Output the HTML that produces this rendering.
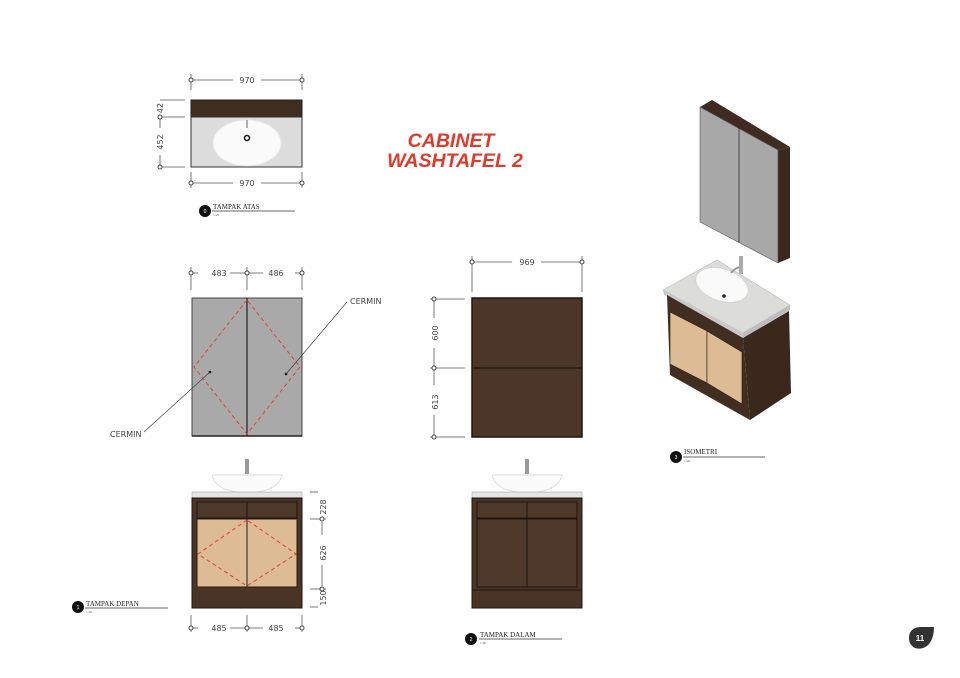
<!DOCTYPE html>
<html><head><meta charset="utf-8"><style>
html,body{margin:0;padding:0;background:#fff;width:960px;height:678px;overflow:hidden}
svg{display:block}
.d{stroke:#555;stroke-width:0.8;fill:none}
.t{font-family:"DejaVu Sans","Liberation Sans",sans-serif;font-size:8px;fill:#444}
.lab{font-family:"Liberation Serif",serif;font-size:7px;fill:#222}
.sc{font-family:"Liberation Serif",serif;font-size:3.5px;fill:#555}
</style></head><body>
<svg width="960" height="678" viewBox="0 0 960 678" xmlns="http://www.w3.org/2000/svg">
<defs>
<g id="tk"><circle r="2" fill="#fff" stroke="#444" stroke-width="1"/></g>
</defs>

<!-- TOP VIEW -->
<line class="d" x1="191" y1="74" x2="191" y2="90"/><line class="d" x1="302" y1="74" x2="302" y2="90"/>
<line class="d" x1="191" y1="80" x2="233" y2="80"/><line class="d" x1="261" y1="80" x2="302" y2="80"/>
<use href="#tk" x="191" y="80"/><use href="#tk" x="302" y="80"/>
<text class="t" x="247" y="83" text-anchor="middle">970</text>
<rect x="191" y="100" width="111" height="17" fill="#3f2d20" stroke="#222" stroke-width="1"/>
<rect x="191" y="117" width="111" height="50" fill="#dcdcdc" stroke="#333" stroke-width="1"/>
<ellipse cx="247" cy="143" rx="34" ry="23" fill="#fafafa" stroke="#e8e8e8"/>
<circle cx="247" cy="138" r="2.5" fill="#fff" stroke="#111" stroke-width="1.5"/>
<line x1="247" y1="120" x2="247" y2="128" stroke="#666" stroke-width="1"/>
<line class="d" x1="160" y1="100" x2="185" y2="100"/><line class="d" x1="158" y1="117" x2="185" y2="117"/><line class="d" x1="158" y1="167" x2="185" y2="167"/>
<line class="d" x1="160" y1="117" x2="160" y2="128"/><line class="d" x1="160" y1="155" x2="160" y2="167"/>
<use href="#tk" x="160" y="117"/><use href="#tk" x="160" y="167"/>
<text class="t" transform="translate(163,108) rotate(-90)" text-anchor="middle">42</text>
<text class="t" transform="translate(163,142) rotate(-90)" text-anchor="middle">452</text>
<line class="d" x1="191" y1="172" x2="191" y2="188"/><line class="d" x1="302" y1="172" x2="302" y2="188"/>
<line class="d" x1="191" y1="183" x2="233" y2="183"/><line class="d" x1="261" y1="183" x2="302" y2="183"/>
<use href="#tk" x="191" y="183"/><use href="#tk" x="302" y="183"/>
<text class="t" x="247" y="186" text-anchor="middle">970</text>
<circle cx="205" cy="211" r="6" fill="#111"/><text x="205" y="213" font-size="5" fill="#fff" text-anchor="middle" font-family="Liberation Sans">0</text>
<text class="lab" x="213" y="209">TAMPAK ATAS</text><line x1="212" y1="211" x2="295" y2="211" stroke="#333" stroke-width="0.7"/>
<text class="sc" x="213" y="216">1:20</text>

<!-- TITLE -->
<text x="451" y="147" text-anchor="middle" font-family="Liberation Sans,sans-serif" font-weight="bold" font-style="italic" font-size="19.5" fill="#e03a2a">CABINET</text>
<text x="455" y="167" text-anchor="middle" font-family="Liberation Sans,sans-serif" font-weight="bold" font-style="italic" font-size="19.5" fill="#e03a2a">WASHTAFEL 2</text>

<!-- MIRROR FRONT -->
<line class="d" x1="191" y1="267" x2="191" y2="290"/><line class="d" x1="247" y1="267" x2="247" y2="290"/><line class="d" x1="302" y1="267" x2="302" y2="290"/>
<line class="d" x1="191" y1="273" x2="198" y2="273"/><line class="d" x1="230" y1="273" x2="263" y2="273"/><line class="d" x1="295" y1="273" x2="302" y2="273"/>
<use href="#tk" x="191" y="273"/><use href="#tk" x="247" y="273"/><use href="#tk" x="302" y="273"/>
<text class="t" x="219" y="276" text-anchor="middle">483</text><text class="t" x="276" y="276" text-anchor="middle">486</text>
<rect x="192" y="298" width="110" height="138" fill="#a9a9a9" stroke="#444" stroke-width="1"/>
<line x1="192" y1="436" x2="302" y2="436" stroke="#222" stroke-width="1.5"/>
<line x1="247" y1="298" x2="247" y2="436" stroke="#222" stroke-width="1.2"/>
<polygon points="247,300 194,367 247,434 300,367" fill="none" stroke="#e0413a" stroke-width="1" stroke-dasharray="4,3"/>
<circle cx="210" cy="372" r="1.3" fill="#000"/><circle cx="286" cy="374" r="1.3" fill="#000"/>
<line x1="210" y1="372" x2="144" y2="432" stroke="#333" stroke-width="0.6"/>
<line x1="286" y1="374" x2="347" y2="302" stroke="#333" stroke-width="0.6"/>
<text class="t" x="350" y="304" font-size="7">CERMIN</text>
<text class="t" x="110" y="437" font-size="7">CERMIN</text>

<!-- MIRROR INNER -->
<line class="d" x1="472" y1="256" x2="472" y2="292"/><line class="d" x1="582" y1="256" x2="582" y2="292"/>
<line class="d" x1="472" y1="262" x2="512" y2="262"/><line class="d" x1="541" y1="262" x2="582" y2="262"/>
<use href="#tk" x="472" y="262"/><use href="#tk" x="582" y="262"/>
<text class="t" x="527" y="265" text-anchor="middle">969</text>
<rect x="472" y="298" width="110" height="139" fill="#4b3627" stroke="#1e1510" stroke-width="1.5"/>
<line x1="473" y1="368" x2="581" y2="368" stroke="#1e1510" stroke-width="1.2"/>
<line class="d" x1="430" y1="299" x2="465" y2="299"/><line class="d" x1="430" y1="368" x2="465" y2="368" stroke-width="1.2"/><line class="d" x1="430" y1="437" x2="465" y2="437"/>
<line class="d" x1="434" y1="299" x2="434" y2="318"/><line class="d" x1="434" y1="348" x2="434" y2="385"/><line class="d" x1="434" y1="415" x2="434" y2="437"/>
<use href="#tk" x="434" y="299"/><use href="#tk" x="434" y="368"/><use href="#tk" x="434" y="437"/>
<text class="t" transform="translate(438,333) rotate(-90)" text-anchor="middle">600</text>
<text class="t" transform="translate(438,402) rotate(-90)" text-anchor="middle">613</text>

<!-- FRONT VIEW -->
<rect x="245" y="459" width="4" height="15" fill="#999"/>
<path d="M212,475 L282,475 Q278,492 247,493 Q216,492 212,475 Z" fill="#fbfbfb" stroke="#ddd"/>
<rect x="192" y="492" width="110" height="6" fill="#e5e5e3" stroke="#999" stroke-width="0.5"/>
<rect x="192" y="498" width="110" height="110" fill="#4a3426" stroke="#1e1510"/>
<rect x="197" y="502" width="50" height="16" fill="#4f392a" stroke="#1e1510"/>
<rect x="247" y="502" width="50" height="16" fill="#4f392a" stroke="#1e1510"/>
<rect x="197" y="519" width="50" height="68" fill="#dcbb95" stroke="#2a1d14"/>
<rect x="247" y="519" width="50" height="68" fill="#dcbb95" stroke="#2a1d14"/>
<polygon points="247,520 198,554 247,586 296,554" fill="none" stroke="#e0413a" stroke-width="1" stroke-dasharray="4,3"/>
<line class="d" x1="310" y1="492" x2="318" y2="492"/><line class="d" x1="310" y1="519" x2="326" y2="519"/><line class="d" x1="310" y1="589" x2="326" y2="589"/><line class="d" x1="310" y1="607" x2="318" y2="607"/>
<line class="d" x1="322" y1="522" x2="322" y2="535"/><line class="d" x1="322" y1="565" x2="322" y2="586"/>
<use href="#tk" x="322" y="519"/><use href="#tk" x="322" y="589"/>
<text class="t" transform="translate(326,507) rotate(-90)" text-anchor="middle">228</text>
<text class="t" transform="translate(326,553) rotate(-90)" text-anchor="middle">626</text>
<text class="t" transform="translate(326,598) rotate(-90)" text-anchor="middle">150</text>
<line class="d" x1="191" y1="615" x2="191" y2="632"/><line class="d" x1="247" y1="615" x2="247" y2="632"/><line class="d" x1="302" y1="615" x2="302" y2="632"/>
<line class="d" x1="191" y1="628" x2="198" y2="628"/><line class="d" x1="230" y1="628" x2="263" y2="628"/><line class="d" x1="295" y1="628" x2="302" y2="628"/>
<use href="#tk" x="191" y="628"/><use href="#tk" x="247" y="628"/><use href="#tk" x="302" y="628"/>
<text class="t" x="219" y="631" text-anchor="middle">485</text><text class="t" x="276" y="631" text-anchor="middle">485</text>
<circle cx="78" cy="607" r="6" fill="#111"/><text x="78" y="609" font-size="5" fill="#fff" text-anchor="middle" font-family="Liberation Sans">1</text>
<text class="lab" x="86" y="606">TAMPAK DEPAN</text><line x1="85" y1="608" x2="168" y2="608" stroke="#333" stroke-width="0.7"/>
<text class="sc" x="86" y="613">1:20</text>

<!-- INNER FRONT -->
<rect x="525" y="459" width="4" height="15" fill="#999"/>
<path d="M492,475 L562,475 Q558,492 527,493 Q496,492 492,475 Z" fill="#fbfbfb" stroke="#ddd"/>
<rect x="472" y="492" width="110" height="6" fill="#e5e5e3" stroke="#999" stroke-width="0.5"/>
<rect x="472" y="498" width="110" height="110" fill="#4a3426" stroke="#1e1510"/>
<rect x="477" y="502" width="50" height="16" fill="#4f392a" stroke="#1e1510"/>
<rect x="527" y="502" width="50" height="16" fill="#4f392a" stroke="#1e1510"/>
<rect x="477" y="519" width="50" height="68" fill="#4f392a" stroke="#1e1510"/>
<rect x="527" y="519" width="50" height="68" fill="#4f392a" stroke="#1e1510"/>
<line x1="472" y1="590" x2="582" y2="590" stroke="#1e1510"/>
<circle cx="471" cy="639" r="6" fill="#111"/><text x="471" y="641" font-size="5" fill="#fff" text-anchor="middle" font-family="Liberation Sans">2</text>
<text class="lab" x="480" y="637">TAMPAK DALAM</text><line x1="479" y1="639" x2="562" y2="639" stroke="#333" stroke-width="0.7"/>
<text class="sc" x="480" y="644">1:20</text>

<!-- ISOMETRIC -->
<polygon points="700,107 712,100 790,147 778,150" fill="#3f2b1f"/>
<polygon points="778,150 790,147 790,258 778,263" fill="#3a281c"/>
<polygon points="700,107 778,150 778,263 700,222" fill="#a8a8a8" stroke="#555" stroke-width="0.6"/>
<line x1="739" y1="128" x2="739" y2="243" stroke="#333" stroke-width="0.8"/>
<polygon points="663,290 717,260 790,305 743,333" fill="#dcdcdb" stroke="#bbb" stroke-width="0.6"/>
<polygon points="663,290 743,333 743,338 664,295" fill="#c8c8c8"/>
<polygon points="743,333 790,305 790,310 743,338" fill="#bdbdbd"/>
<polygon points="667,295 743,338 750,420 670,375" fill="#422e21"/>
<polygon points="743,338 789,311 791,393 750,420" fill="#3a281c"/>
<polygon points="670,312 707,331 707,383 670,364" fill="#dcbb95" stroke="#2a1d14" stroke-width="0.6"/>
<polygon points="707,331 742,352 742,404 707,383" fill="#dcbb95" stroke="#2a1d14" stroke-width="0.6"/>
<ellipse cx="722" cy="285" rx="27" ry="16" transform="rotate(18 722 285)" fill="#fafafa" stroke="#ccc" stroke-width="0.6"/>
<circle cx="724" cy="296" r="1.8" fill="#222"/>
<path d="M731,273 Q735,268 740,267 L740,258" stroke="#999" stroke-width="2" fill="none"/>
<rect x="739" y="256" width="4" height="18" fill="#aaa"/>
<circle cx="676" cy="457" r="6" fill="#111"/><text x="676" y="459" font-size="5" fill="#fff" text-anchor="middle" font-family="Liberation Sans">3</text>
<text class="lab" x="684" y="454">ISOMETRI</text><line x1="683" y1="457" x2="765" y2="457" stroke="#333" stroke-width="0.7"/>
<text class="sc" x="684" y="462">1:20</text>

<!-- PAGE NUMBER -->
<path d="M909,638 Q909,628 920,627 L934,627 Q934,640 927,646 Q921,650 915,648 Q909,645 909,638 Z" fill="#333"/>
<text x="920" y="641" font-size="8" font-weight="bold" fill="#fff" text-anchor="middle" font-family="Liberation Sans">11</text>
</svg>
</body></html>
